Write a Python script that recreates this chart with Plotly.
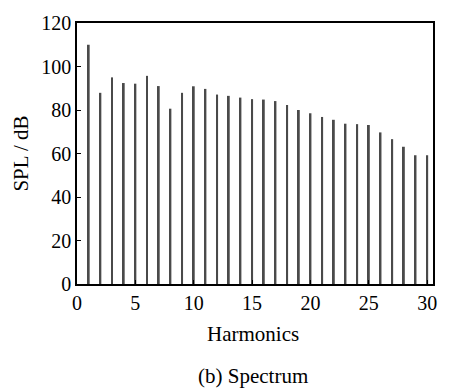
import plotly.graph_objects as go

harmonics = list(range(1, 31))
spl_db = [110.0, 87.9, 95.0, 92.4, 92.1, 95.7, 91.0, 80.6, 87.9, 90.9,
          89.7, 87.1, 86.5, 85.7, 85.0, 84.8, 84.1, 82.3, 80.0, 78.5,
          76.8, 75.5, 73.7, 73.5, 73.1, 69.7, 66.6, 63.1, 59.2, 59.2]
x_ticks = [0, 5, 10, 15, 20, 25, 30]
y_ticks = [0, 20, 40, 60, 80, 100, 120]

FONT = "Liberation Serif, Times New Roman, serif"

PL, PR, PT, PB = 77, 436, 19, 284

fig = go.Figure(go.Bar(x=harmonics, y=spl_db, width=0.17,
                       marker=dict(color="#4a4a4a", line=dict(width=0))))

fig.update_layout(
    width=449, height=390,
    margin=dict(l=PL, r=449 - PR, t=PT, b=390 - PB),
    paper_bgcolor="white", plot_bgcolor="white",
    showlegend=False,
    font=dict(family=FONT, size=20, color="black"),
    xaxis=dict(range=[0, 30.5], tickvals=x_ticks, ticks="inside", ticklen=4,
               tickwidth=1.2, tickcolor="black", showline=True, linecolor="black",
               linewidth=1.5, mirror=True, showgrid=False, zeroline=False,
               tickfont=dict(family=FONT, size=20)),
    yaxis=dict(range=[0, 120], tickvals=y_ticks, ticks="inside", ticklen=4,
               tickwidth=1.2, tickcolor="black", showline=True, linecolor="black",
               linewidth=1.5, mirror=True, showgrid=False, zeroline=False,
               tickfont=dict(family=FONT, size=20),
               title=dict(text="SPL / dB", font=dict(family=FONT, size=21), standoff=7)),
)

def px_to_paper_x(px):
    return (px - PL) / (PR - PL)

def px_to_paper_y(py):
    return (PB - py) / (PB - PT)

fig.add_annotation(text="Harmonics", x=px_to_paper_x(254), y=px_to_paper_y(335),
                   xref="paper", yref="paper", showarrow=False, yanchor="middle",
                   font=dict(family=FONT, size=21))
fig.add_annotation(text="(b) Spectrum", x=px_to_paper_x(254), y=px_to_paper_y(377),
                   xref="paper", yref="paper", showarrow=False, yanchor="middle",
                   font=dict(family=FONT, size=21))

fig.write_html("out.html")
